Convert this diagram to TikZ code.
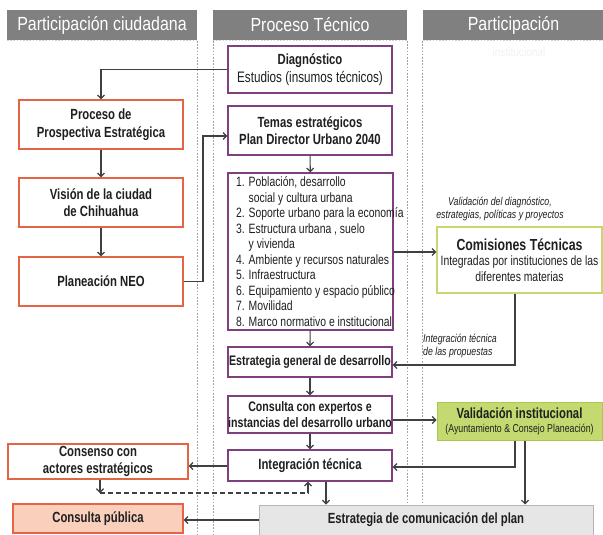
\documentclass[tikz,border=0pt]{standalone}
\usepackage{fontspec}
\setmainfont{Liberation Sans}
\newfontfamily\nar{Liberation Sans}[FakeStretch=0.77]
\newfontfamily\hnar{Liberation Sans}[FakeStretch=0.84]
\usetikzlibrary{arrows.meta}
\definecolor{hdrgray}{RGB}{128,128,128}
\definecolor{purp}{RGB}{128,64,128}
\definecolor{oran}{RGB}{230,100,70}
\definecolor{salmon}{RGB}{250,208,188}
\definecolor{comisc}{RGB}{200,215,110}
\definecolor{validf}{RGB}{196,218,112}
\definecolor{validd}{RGB}{170,200,80}
\definecolor{comf}{RGB}{230,230,230}
\definecolor{comd}{RGB}{180,180,180}
\definecolor{arrc}{RGB}{64,64,64}
\newcommand\hdrf{\hnar\fontsize{19}{22}\selectfont}
\newcommand\bxf{\nar\bfseries\fontsize{14.7}{17.5}\selectfont}
\newcommand\bxs{\nar\bfseries\fontsize{13.8}{15.5}\selectfont}
\newcommand\rgf{\nar\fontsize{15.2}{17.5}\selectfont}
\newcommand\lsf{\nar\fontsize{13.5}{15.5}\selectfont}
\newcommand\vsf{\nar\fontsize{11.4}{14}\selectfont}
\newcommand\itf{\nar\itshape\fontsize{11.4}{13}\selectfont}
\tikzset{
  arr/.style={draw=arrc, line width=1.2pt, -{Straight Barb[length=3.5pt,width=7pt]}},
  dsh/.style={draw=arrc, line width=1.2pt, dash pattern=on 5pt off 3pt},
  pbox/.style={draw=purp, line width=1.3pt, fill=white, inner sep=0pt},
  obox/.style={draw=oran, line width=1.3pt, fill=white, inner sep=0pt},
  lbl/.style={align=center, inner sep=0pt, text=black!88, font=\bxf},
  hdr/.style={fill=hdrgray, text=white, inner sep=0pt, font=\hdrf},
  vline/.style={draw=gray!75, dash pattern=on 1.6pt off 1.6pt, line width=0.9pt},
  hline/.style={draw=gray!35, dash pattern=on 1.6pt off 1.6pt, line width=0.8pt},
}
\begin{document}
\begin{tikzpicture}[x=1pt,y=-1pt]
\useasboundingbox[fill=white] (0,0) rectangle (603,535);
% headers
\node[hdr, minimum width=190pt, minimum height=30pt] (h1) at (102,25) {Participación ciudadana};
\node[hdr, minimum width=194pt, minimum height=30pt] (h2) at (310,25) {Proceso Técnico};
\node[hdr, minimum width=181pt, minimum height=30pt] (h3) at (513.5,25) {Participación};
\node[text=gray!10, font=\hdrf\fontsize{12}{14}\selectfont, inner sep=0pt] (h3b) at (519,52) {institucional};
\draw[hline] (7,40.5) -- (197,40.5);
\draw[hline] (213,40.5) -- (407,40.5);
\draw[hline] (423,40.5) -- (603,40.5);
% column separators
\foreach \xx in {197,213,407,422} \draw[vline] (\xx,41) -- (\xx,535);
% middle column
\node[pbox, minimum width=164pt, minimum height=47pt,
  label={[lbl, font=\rgf]center:{{\bxf Diagnóstico}\\Estudios (insumos técnicos)}}] (diag) at (310,69.5) {};
\node[pbox, minimum width=164pt, minimum height=49pt,
  label={[lbl]center:{Temas estratégicos\\Plan Director Urbano 2040}}] (temas) at (310,130.5) {};
\node[pbox, minimum width=165pt, minimum height=157pt] (list) at (310.5,251.5) {};
\node[lbl, align=left, anchor=west, font=\lsf] (listtxt) at (236,251.5) {%
1. Población, desarrollo\\
\phantom{1. }social y cultura urbana\\
2. Soporte urbano para la economía\\
3. Estructura urbana , suelo\\
\phantom{3. }y vivienda\\
4. Ambiente y recursos naturales\\
5. Infraestructura\\
6. Equipamiento y espacio público\\
7. Movilidad\\
8. Marco normativo e institucional};
\node[pbox, minimum width=164pt, minimum height=30pt,
  label={[lbl, font=\bxs]center:{Estrategia general de desarrollo}}] (estgen) at (310,362) {};
\node[pbox, minimum width=164pt, minimum height=37pt,
  label={[lbl, font=\bxs]center:{Consulta con expertos e\\instancias del desarrollo urbano}}] (consulta) at (310,414.5) {};
\node[pbox, minimum width=164pt, minimum height=31pt,
  label={[lbl]center:{Integración técnica}}] (integ) at (310,465.5) {};
\node[draw=comd, fill=comf, line width=1pt, inner sep=0pt, minimum width=334pt, minimum height=30pt,
  label={[lbl]center:{Estrategia de comunicación del plan}}] (comun) at (426,520) {};
% left column
\node[obox, minimum width=164pt, minimum height=49pt,
  label={[lbl]center:{Proceso de\\Prospectiva Estratégica}}] (prosp) at (101,124.5) {};
\node[obox, minimum width=164pt, minimum height=49pt,
  label={[lbl]center:{Visión de la ciudad\\de Chihuahua}}] (vision) at (101,202.5) {};
\node[obox, minimum width=164pt, minimum height=49pt,
  label={[lbl]center:{Planeación NEO}}] (neo) at (101,281.5) {};
\node[obox, minimum width=180pt, minimum height=35pt,
  label={[lbl]center:{Consenso con\\actores estratégicos}}] (consenso) at (98,461.5) {};
\node[obox, fill=salmon, minimum width=170pt, minimum height=29pt,
  label={[lbl]center:{Consulta pública}}] (cpub) at (98,518.5) {};
% right column
\node[draw=comisc, line width=1.3pt, fill=white, inner sep=0pt, minimum width=165pt, minimum height=66pt,
  label={[lbl, font=\lsf]center:{{\bxf\fontsize{16}{19}\selectfont Comisiones Técnicas}\\Integradas por instituciones de las\\diferentes materias}}] (comis) at (519.5,260) {};
\node[draw=validd, line width=1pt, fill=validf, inner sep=0pt, minimum width=165pt, minimum height=38pt,
  label={[lbl, font=\vsf]center:{{\bxf Validación institucional}\\(Ayuntamiento \& Consejo Planeación)}}] (valid) at (519.5,421) {};
\node[lbl, font=\itf] (lab1) at (500,208.5) {Validación del diagnóstico,\\estrategias, políticas y proyectos};
\node[lbl, font=\itf, align=left, anchor=west] (lab2) at (423,345.5) {Integración técnica\\de las propuestas};
% coordinates
\coordinate (jn) at (203,136);
\coordinate (ya) at (415,252);
\coordinate (cb) at (515,365);
\coordinate (yb) at (415,420);
\coordinate (vb) at (515,467);
\coordinate (vc) at (525,467);
\coordinate (ic) at (326,490);
\coordinate (yc) at (300,466);
\coordinate (yd) at (300,520);
\coordinate (dl) at (100,493);
\coordinate (dr) at (308,493);
\coordinate (dr2) at (308,488);
\coordinate (dr3) at (308,489);
% connectors
\draw[arr] (diag.west) -| (prosp.north);
\draw[arr] (prosp) -- (vision);
\draw[arr] (vision) -- (neo);
\draw[arr] (neo.east) -| (jn) -- (jn -| temas.west);
\draw[arr] (temas) -- (list);
\draw[arr] (list) -- (estgen);
\draw[arr] (estgen) -- (consulta);
\draw[arr] (consulta) -- (integ);
\draw[arr] (list.east |- ya) -- (comis.west |- ya);
\draw[arr] (cb |- comis.south) -- (cb) -- (cb -| estgen.east);
\draw[arr] (consulta.east |- yb) -- (valid.west |- yb);
\draw[arr] (vb |- valid.south) -- (vb) -- (vb -| integ.east);
\draw[arr] (vc |- valid.south) -- (vc |- comun.north);
\draw[arr] (ic |- integ.south) -- (ic |- comun.north);
\draw[arr] (integ.west |- yc) -- (consenso.east |- yc);
\draw[arr] (comun.west |- yd) -- (cpub.east |- yd);
\draw[arr] (dl |- consenso.south) -- (dl);
\draw[dsh] (dl) -- (dr) -- (dr2);
\draw[arr] (dr3) -- (dr |- integ.south);
\end{tikzpicture}
\end{document}
